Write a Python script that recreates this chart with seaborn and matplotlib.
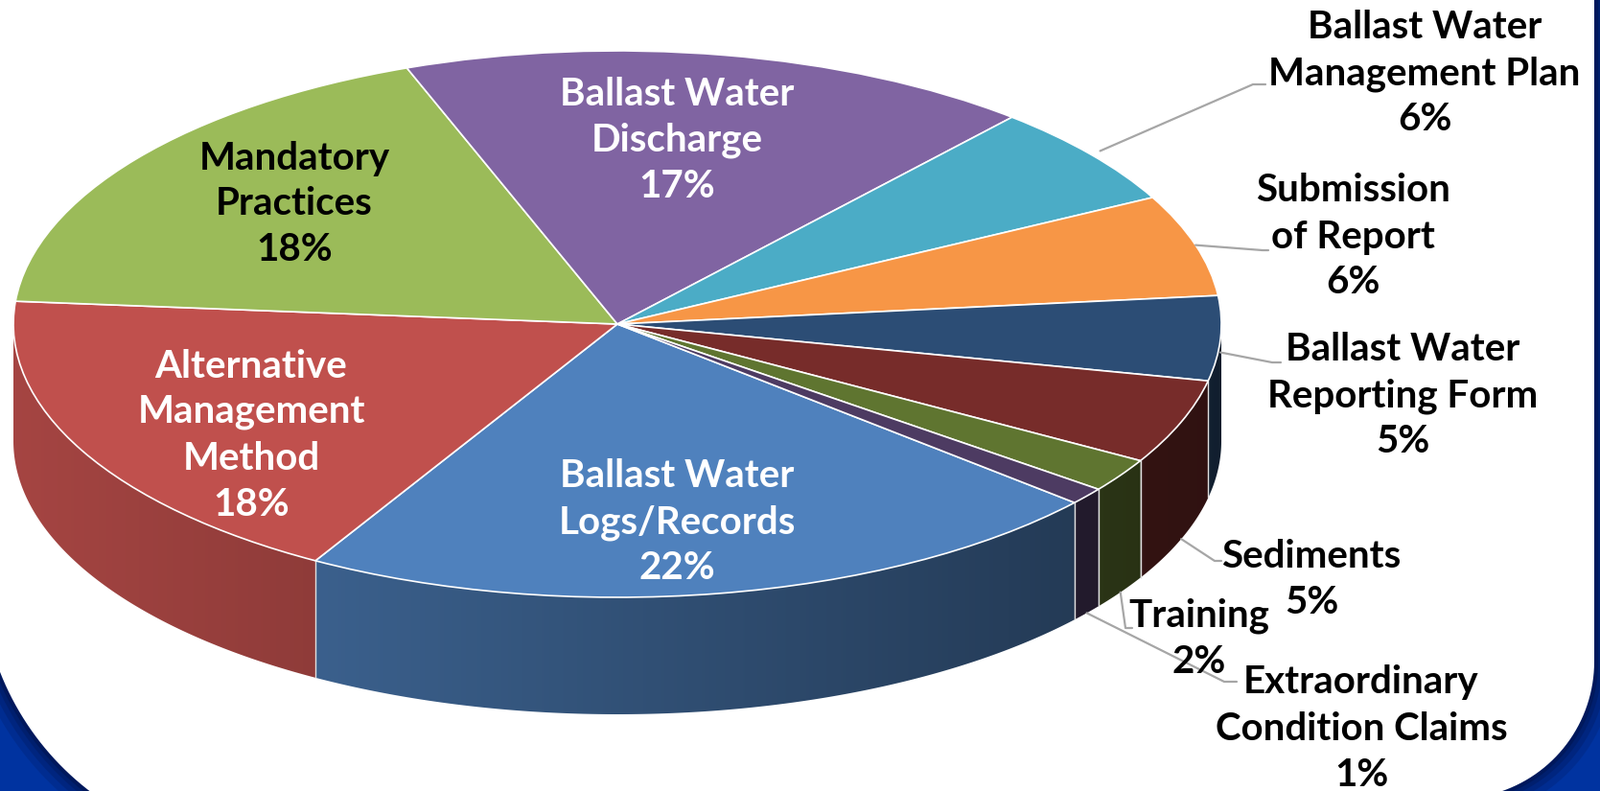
import numpy as np
import matplotlib
matplotlib.use("Agg")
import matplotlib.pyplot as plt
import matplotlib.colors as mcolors
from matplotlib.patches import Polygon, Rectangle
import seaborn as sns

# ---------------- data ----------------
categories = ["Ballast Water\nLogs/Records", "Alternative\nManagement\nMethod",
              "Mandatory\nPractices", "Ballast Water\nDischarge",
              "Ballast Water\nManagement Plan", "Submission\nof Report",
              "Ballast Water\nReporting Form", "Sediments", "Training",
              "Extraordinary\nCondition Claims"]
values = [22, 18, 18, 17, 6, 6, 5, 5, 2, 1]
colors = ["#4F81BD", "#C0504D", "#9BBB59", "#8064A2", "#4BACC6",
          "#F79646", "#2C4D75", "#772C2A", "#5F7530", "#4D3B62"]

sns.set_theme(style="white")
plt.rcParams['font.family'] = ['Lato', 'DejaVu Sans']

W, H = 1669, 825
fig = plt.figure(figsize=(W / 100, H / 100), dpi=100)

# ---------------- background ----------------
bg = fig.add_axes([0, 0, 1, 1])
bg.set_xlim(0, W)
bg.set_ylim(H, 0)
bg.axis('off')
bg.add_patch(Rectangle((-10, -10), W + 20, H + 20, color='#0033A0', zorder=0))

pts = [(-60, -60), (1663, -60), (1663, 690)]
a = np.linspace(0, np.pi / 2, 40)
pts += list(zip(1520 + 143 * np.cos(a), 690 + 143 * np.sin(a)))
a = np.linspace(np.pi / 2, np.pi, 60)
pts += list(zip(270 + 290 * np.cos(a), 595 + 290 * np.sin(a)))
pts += [(-20, -60)]
for lw, al in [(30, 0.15), (20, 0.18), (12, 0.22), (6, 0.3)]:
    bg.add_patch(Polygon(pts, closed=True, facecolor='none', edgecolor='#000a35',
                         linewidth=lw, alpha=al, zorder=1, joinstyle='round'))
bg.add_patch(Polygon(pts, closed=True, facecolor='white', edgecolor='none', zorder=2))

# ---------------- pie ----------------
cx, cy, rx, ry, depth = 644, 338, 630, 285, 122
ax = fig.add_axes([0, 0, 1, 1])
ax.patch.set_alpha(0)

start = -40.8
total = float(sum(values))
bounds = start - 360 * np.concatenate([[0], np.cumsum(values)]) / total
d = depth / ry

xs = np.linspace(-1, 1, 400)
fr = (xs + 1) / 2
for i, c in enumerate(colors):
    lo, hi = bounds[i + 1], bounds[i]
    for k in (0, -360):
        a0, a1 = max(lo, -180 + k), min(hi, 0 + k)
        if a1 <= a0:
            continue
        t = np.radians(np.linspace(a1, a0, 200))
        top = np.column_stack([np.cos(t), np.sin(t)])
        bot = top[::-1] - [0, d]
        poly = Polygon(np.vstack([top, bot]), closed=True, facecolor='none',
                       edgecolor='none', transform=ax.transData)
        ax.add_patch(poly)
        f = 0.86 - 0.46 * fr
        rgb = np.array(mcolors.to_rgb(c))
        img = (f[:, None] * rgb[None, :])[None, :, :]
        im = ax.imshow(img, extent=(-1, 1, -1 - d, 0.05), aspect='auto',
                       interpolation='bilinear', zorder=1)
        im.set_clip_path(poly)

for b in bounds[:-1]:
    rb = np.radians(b)
    if np.sin(rb) < -0.01:
        ax.plot([np.cos(rb)] * 2, [np.sin(rb), np.sin(rb) - d], color='#e0e0e0',
                lw=1.0, zorder=1.5, solid_capstyle='butt')

wedges, _ = ax.pie(values, colors=colors, startangle=start, counterclock=False,
                   radius=1, center=(0, 0),
                   wedgeprops=dict(edgecolor='white', linewidth=1.2))
for w in wedges:
    w.set_zorder(2)
ax.set_aspect('auto')
ax.set_xlim((0 - cx) / rx, (W - cx) / rx)
ax.set_ylim((cy - H) / ry, cy / ry)
ax.axis('off')

# ---------------- labels (overlay) ----------------
fg = fig.add_axes([0, 0, 1, 1])
fg.patch.set_alpha(0)
fg.set_xlim(0, W)
fg.set_ylim(H, 0)
fg.axis('off')

FS = 29
PITCH = 48


def label(i, x, y, col):
    lines = (categories[i] + "\n" + f"{values[i]}%").split("\n")
    n = len(lines)
    for j, s in enumerate(lines):
        fg.text(x, y + (j - (n - 1) / 2) * PITCH, s, ha='center', va='center',
                fontsize=FS, fontweight='bold', color=col, zorder=5)


inside = [  # index, x, y, color
    (0, 706, 545, 'white'),
    (1, 262, 454, 'white'),
    (2, 307, 213, 'black'),
    (3, 706, 146, 'white'),
]
for i, x, y, col in inside:
    label(i, x, y, col)

outside = [  # index, text x, text y, radius, depth frac, elbow, end
    (4, 1486, 77, 1.02, 0.0, (1307, 88), (1320, 88)),
    (5, 1411, 247, 1.0, 0.0, (1317, 261), (1323, 261)),
    (6, 1463, 413, 1.0, 0.12, (1327, 378), (1336, 378)),
    (7, 1368, 604, 1.0, 1.0, (1267, 585), (1274, 585)),
    (8, 1251, 666, 1.0, 1.0, (1174, 655), (1181, 655)),
    (9, 1420, 760, 1.0, 1.0, (1277, 711), (1290, 711)),
]
for i, x, y, rr, df, el, en in outside:
    m = np.radians((bounds[i] + bounds[i + 1]) / 2)
    sx = cx + rr * rx * np.cos(m)
    sy = cy - rr * ry * np.sin(m) + depth * df
    fg.plot([sx, el[0], en[0]], [sy, el[1], en[1]], color='#A6A6A6', lw=1.6, zorder=4)
    label(i, x, y, 'black')

fig.savefig("out.png", dpi=100)
